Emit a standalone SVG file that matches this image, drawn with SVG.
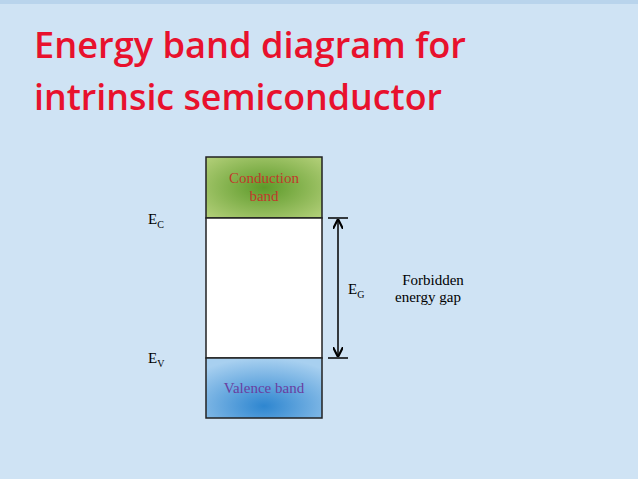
<svg xmlns="http://www.w3.org/2000/svg" width="638" height="479" viewBox="0 0 638 479">
<defs>
<radialGradient id="gc" cx="0.5" cy="0.5" r="0.7"><stop offset="0" stop-color="#5d9a2a"/><stop offset="1" stop-color="#b4d07a"/></radialGradient>
<radialGradient id="gv" cx="0.5" cy="0.8" r="0.8"><stop offset="0" stop-color="#2e86d0"/><stop offset="1" stop-color="#a8d0f0"/></radialGradient>
<marker id="ah" viewBox="0 0 10 10" refX="9" refY="5" markerWidth="7" markerHeight="7" orient="auto-start-reverse"><path d="M0,0 L10,5 L0,10" fill="none" stroke="#000" stroke-width="2"/></marker>
<style>
.t{font-family:"Open Sans",sans-serif;font-size:36px;font-weight:600;fill:#e8112d}
.s{font-family:"Liberation Serif",serif;font-size:15px}
.b{stroke:#222;stroke-width:1.5}
</style>
</defs>
<rect width="638" height="479" fill="#cfe3f4"/>
<rect x="0" y="0" width="638" height="4" fill="#b9d4ec"/>
<text class="t" x="34" y="58" textLength="432" lengthAdjust="spacingAndGlyphs">Energy band diagram for</text>
<text class="t" x="34" y="110" textLength="408" lengthAdjust="spacingAndGlyphs">intrinsic semiconductor</text>
<g id="conduction"><rect class="b" x="206" y="157" width="116" height="61" fill="url(#gc)"/>
<text class="s" x="264" y="183" text-anchor="middle" fill="#c0392b">Conduction</text>
<text class="s" x="264" y="201" text-anchor="middle" fill="#c0392b">band</text></g>
<g id="gap"><rect class="b" x="206" y="218" width="116" height="140" fill="#fff"/></g>
<g id="valence"><rect class="b" x="206" y="358" width="116" height="60" fill="url(#gv)"/>
<text class="s" x="264" y="393" text-anchor="middle" fill="#6a3fa0">Valence band</text></g>
<g id="connectors" stroke="#000" stroke-width="1.5">
<line x1="328" y1="218" x2="348" y2="218"/>
<line x1="328" y1="358" x2="348" y2="358"/>
<line x1="338" y1="220" x2="338" y2="356" marker-start="url(#ah)" marker-end="url(#ah)"/>
</g>
<g class="s" fill="#000">
<text x="148" y="224">E<tspan font-size="10" dy="4">C</tspan></text>
<text x="148" y="363">E<tspan font-size="10" dy="4">V</tspan></text>
<text x="348" y="294">E<tspan font-size="10" dy="4">G</tspan></text>
<text x="433" y="285" text-anchor="middle">Forbidden</text>
<text x="428" y="302" text-anchor="middle">energy gap</text>
</g>
</svg>
